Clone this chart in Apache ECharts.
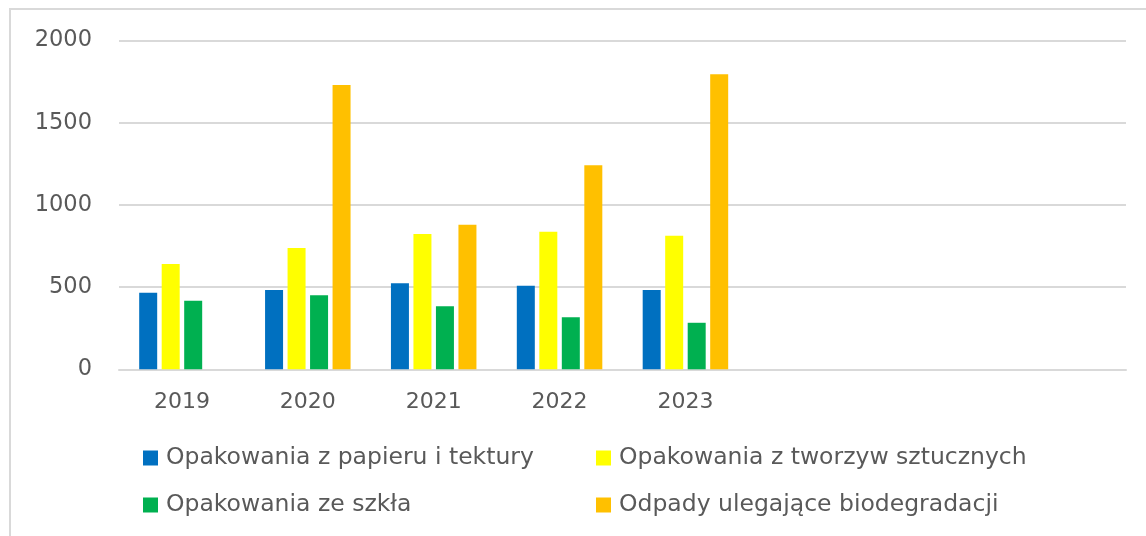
<!DOCTYPE html>
<html>
<head>
<meta charset="utf-8">
<script src="https://cdn.jsdelivr.net/npm/echarts@6/dist/echarts.min.js"></script>
<style>
html,body{margin:0;padding:0;background:#fff;}
#chart{width:1146px;height:536px;}
</style>
</head>
<body>
<div id="chart"></div>
<script>
const categories = ['2019', '2020', '2021', '2022', '2023', '', '', ''];
const seriesNames = [
  'Opakowania z papieru i tektury',
  'Opakowania z tworzyw sztucznych',
  'Opakowania ze szkła',
  'Odpady ulegające biodegradacji'
];
const papier = [466, 482, 523, 508, 482];
const tworzywa = [640, 738, 823, 837, 813];
const szklo = [417, 450, 383, 316, 283];
const bio = [null, 1729, 880, 1241, 1794];
const yTicks = [0, 500, 1000, 1500, 2000];

const colors = ['#0070C0', '#FFFF00', '#00B050', '#FFC000'];
const values = [papier, tworzywa, szklo, bio];
const font = 'DejaVu Sans';
const textColor = '#595959';

const chart = echarts.init(document.getElementById('chart'), null, {renderer: 'canvas'});

const legendPos = [
  {left: 143, top: 446},
  {left: 596, top: 446},
  {left: 143, top: 493},
  {left: 596, top: 493}
];

const option = {
  animation: false,
  backgroundColor: '#ffffff',
  graphic: [{
    type: 'rect',
    shape: {x: 10, y: 9, width: 1300, height: 700},
    style: {fill: 'none', stroke: '#d9d9d9', lineWidth: 2},
    silent: true
  }],
  legend: seriesNames.map((n, i) => ({
    data: [n],
    left: legendPos[i].left,
    top: legendPos[i].top,
    padding: 0,
    icon: 'rect',
    itemWidth: 15,
    itemHeight: 15,
    textStyle: {fontFamily: font, fontSize: 23.5, color: textColor, padding: [0, 0, 0, 3]}
  })),
  grid: {left: 119, right: 20, top: 40.5, bottom: 166.7, containLabel: false},
  xAxis: {
    type: 'category',
    data: categories,
    axisLine: {show: true, lineStyle: {color: '#d9d9d9', width: 2}},
    axisTick: {show: false},
    axisLabel: {fontFamily: font, fontSize: 22, color: textColor, margin: 22, interval: 0},
    splitLine: {show: false}
  },
  yAxis: {
    type: 'value',
    min: yTicks[0],
    max: yTicks[yTicks.length - 1],
    interval: 500,
    axisLine: {show: false},
    axisTick: {show: false},
    axisLabel: {fontFamily: font, fontSize: 22.5, color: textColor, margin: 27, formatter: v => String(v)},
    splitLine: {lineStyle: {color: '#d9d9d9', width: 2}}
  },
  series: seriesNames.map((n, i) => ({
    name: n,
    type: 'bar',
    data: values[i],
    barWidth: 18,
    barGap: '25%',
    itemStyle: {color: colors[i]}
  }))
};
chart.setOption(option);
</script>
</body>
</html>
